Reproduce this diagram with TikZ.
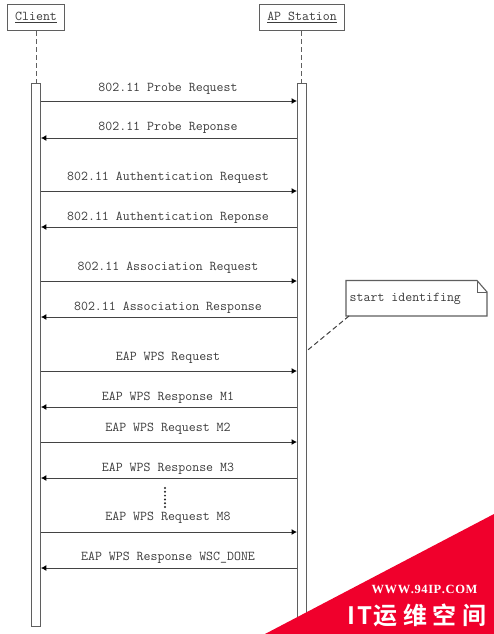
\documentclass[tikz,border=0pt]{standalone}
\usepackage{fontspec}
\setmainfont{Latin Modern Mono}
\newfontfamily\cjkfont{Noto Sans CJK SC}[BoldFont={* Bold}]
\newfontfamily\wmfont{Liberation Serif}
\usetikzlibrary{arrows.meta}
\definecolor{ln}{RGB}{95,95,95}
\definecolor{tx}{RGB}{60,60,60}
\definecolor{wm}{RGB}{240,0,44}
\tikzset{
 x=1pt,y=-1pt,
 every node/.style={font=\fontsize{13.5}{14}\selectfont,text=tx,inner sep=0pt},
 actor/.style={draw=ln,line width=1.1pt,fill=white,minimum height=26pt,anchor=north west},
 bar/.style={draw=ln,line width=1.1pt,fill=white,minimum width=8.5pt,anchor=north west},
 life/.style={draw=ln,line width=1pt,dash pattern=on 5pt off 3pt},
 msg/.style={draw=ln!70!black,line width=1pt,-{Latex[length=5.5pt,width=6pt,black]}},
 lbl/.style={anchor=center},
}
\begin{document}
\begin{tikzpicture}
\useasboundingbox (0,0) rectangle (494,634);
\fill[white] (0,0) rectangle (494,634);
% lifelines
\node[actor,minimum width=57pt] (client) at (7,4) {\underline{Client}};
\node[actor,minimum width=85pt] (ap) at (259,4) {\underline{AP Station}};
\node[bar,minimum height=543pt] (cbar) at (31.3,83) {};
\node[bar,minimum height=560pt] (abar) at (297,83) {};
\draw[life] (client.south -| cbar.north) -- (cbar.north);
\draw[life] (ap.south -| abar.north) -- (abar.north);
% messages: y, direction, label y, label
\foreach \n/\y/\ly/\dir/\t/\cx in {
 a/101/88.5/r/802.11 Probe Request/168,
 b/138/127.5/l/802.11 Probe Reponse/168,
 c/191/177.5/r/802.11 Authentication Request/168,
 d/227/217.5/l/802.11 Authentication Reponse/168,
 e/281/267.5/r/802.11 Association Request/168,
 f/317/307.5/l/802.11 Association Response/168,
 g/371/357.5/r/EAP WPS Request/168,
 h/407/397.5/l/EAP WPS Response M1/168,
 i/442/428.5/r/EAP WPS Request M2/168,
 j/478/468.5/l/EAP WPS Response M3/168,
 k/532/518/r/EAP WPS Request M8/168,
 m/568/557.5/l/EAP WPS Response WSC\_DONE/168}{
  \coordinate (L\n) at (cbar.east |- 0,\y);
  \coordinate (R\n) at (abar.west |- 0,\y);
  \node[lbl] (T\n) at (\cx,\ly) {\t};
  \if\dir r
   \draw[msg] (L\n) -- (R\n);
  \else
   \draw[msg] (R\n) -- (L\n);
  \fi
}
% ellipsis
\foreach \yy in {488,491.8,495.6,499.4,503.2,507}{\fill[black!85] (165,\yy) circle (1.1pt);}
% note
\draw[ln,line width=1.1pt,fill=white] (346,280.5) -- (477,280.5) -- (487,292) -- (487,316) -- (346,316) -- cycle;
\draw[ln,line width=0.8pt] (477,280.5) -- (477,292) -- (487,292);
\node[anchor=west] (note) at (349.5,298.5) {start identifing};
\coordinate (nc) at (349,316);
\coordinate (bc) at (abar.east |- 0,351);
\draw[life,draw=black!75] (nc) -- (bc);
% watermark
\fill[wm] (494,514) -- (494,634) -- (265,634) -- cycle;
\node[anchor=center,text=white,font=\wmfont\bfseries\fontsize{12.5}{13}\selectfont] (wm1) at (424.5,589.5) {W\kern.6pt W\kern.6pt W\kern.6pt .\kern.6pt 9\kern.6pt 4\kern.6pt I\kern.6pt P\kern.6pt .\kern.6pt C\kern.6pt O\kern.6pt M};
\node[anchor=center,text=white,font=\cjkfont\bfseries\fontsize{24}{26}\selectfont] (wm2) at (417,615) {I\kern2pt T\kern1.5pt 运\kern5.5pt 维\kern5.5pt 空\kern5.5pt 间};
\end{tikzpicture}
\end{document}
